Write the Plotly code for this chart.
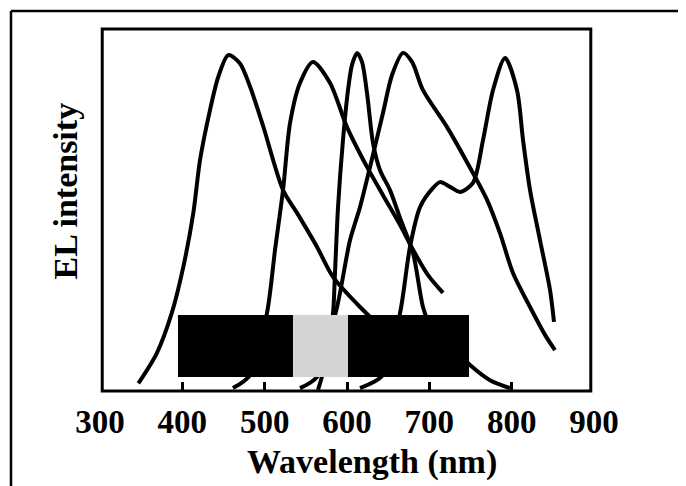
import plotly.graph_objects as go

# ---- data ----
wl_1 = [346.6, 368.9, 387.1, 401.2, 413.3, 421.5, 433.6, 443.7, 455.8, 470.0, 482.2, 498.4,
        522.3, 539.3, 563.6, 583.0, 615.8, 652.2, 700.8]
el_1 = [0.021, 0.104, 0.215, 0.343, 0.491, 0.638, 0.776, 0.868, 0.928, 0.905, 0.841, 0.730,
        0.555, 0.492, 0.398, 0.315, 0.232, 0.155, 0.072]

wl_2 = [461.5, 482.2, 502.8, 512.6, 522.3, 530.8, 542.9, 558.7, 579.4, 600.0, 624.3, 643.7,
        664.4, 680.2, 698.4, 716.6]
el_2 = [0.008, 0.044, 0.215, 0.390, 0.555, 0.740, 0.851, 0.909, 0.851, 0.729, 0.619, 0.541,
        0.459, 0.390, 0.320, 0.271]

wl_3 = [564.8, 573.3, 583.0, 585.4, 589.1, 595.1, 601.2, 606.1, 612.2, 618.2, 624.3, 631.6,
        640.1, 652.2, 664.4, 680.2, 692.3, 700.8, 725.1, 749.4, 773.7, 798.0]
el_3 = [0.003, 0.072, 0.215, 0.326, 0.508, 0.693, 0.831, 0.901, 0.934, 0.909, 0.823, 0.685,
        0.610, 0.555, 0.478, 0.381, 0.232, 0.182, 0.127, 0.072, 0.030, 0.008]

wl_4 = [542.9, 563.6, 587.9, 603.7, 615.8, 628.0, 643.7, 654.7, 668.0, 679.0, 692.3, 721.5,
        753.0, 770.1, 785.8, 801.6, 822.3, 840.5, 852.6]
el_4 = [0.008, 0.039, 0.232, 0.417, 0.508, 0.619, 0.768, 0.873, 0.934, 0.909, 0.831, 0.729,
        0.602, 0.528, 0.436, 0.326, 0.232, 0.155, 0.113]

wl_5 = [615.8, 643.7, 664.4, 676.5, 688.7, 704.5, 713.0, 725.1, 737.3, 753.0, 765.2, 777.3,
        792.0, 806.5, 813.8, 822.3, 834.4, 846.6, 851.4]
el_5 = [0.008, 0.044, 0.215, 0.398, 0.508, 0.561, 0.577, 0.564, 0.550, 0.575, 0.693, 0.831,
        0.920, 0.831, 0.693, 0.555, 0.417, 0.279, 0.191]

tick_vals = [300, 400, 500, 600, 700, 800, 900]
inner_ticks = [400, 500, 600, 700, 800]

# device photo blocks (in data units)
block_x = [394.7, 534.4, 601.2, 748.2]
block_y = [0.039, 0.21]

x_title = "Wavelength (nm)"
y_title = "EL intensity"

FONT = "Liberation Serif"

fig = go.Figure()
for wl, el in [(wl_1, el_1), (wl_2, el_2), (wl_3, el_3), (wl_4, el_4), (wl_5, el_5)]:
    fig.add_trace(go.Scatter(x=wl, y=el, mode="lines",
                             line=dict(color="black", width=4, shape="spline", smoothing=0.8),
                             showlegend=False, hoverinfo="skip"))

shapes = [
    # gap between the two device photos
    dict(type="rect", xref="x", yref="y", x0=block_x[1], x1=block_x[2], y0=block_y[0], y1=block_y[1],
         fillcolor="#d4d4d4", line=dict(width=0), layer="above"),
    dict(type="rect", xref="x", yref="y", x0=block_x[0], x1=block_x[1], y0=block_y[0], y1=block_y[1],
         fillcolor="black", line=dict(width=0), layer="above"),
    dict(type="rect", xref="x", yref="y", x0=block_x[2], x1=block_x[3], y0=block_y[0], y1=block_y[1],
         fillcolor="black", line=dict(width=0), layer="above"),
    # plot frame
    dict(type="rect", xref="paper", yref="paper", x0=0.0045, x1=0.9935, y0=0.0, y1=1.0,
         line=dict(color="black", width=3), layer="above"),
    # outer figure frame (top and left)
    dict(type="line", xref="paper", yref="paper", x0=-0.1802, x1=1.2, y0=1.0497, y1=1.0497,
         line=dict(color="black", width=2.5)),
    dict(type="line", xref="paper", yref="paper", x0=-0.1802, x1=-0.1802, y0=1.0497, y1=-0.30,
         line=dict(color="black", width=2.5)),
]

fig.update_layout(
    width=678, height=478,
    margin=dict(l=92, r=92, t=21, b=95),
    paper_bgcolor="white", plot_bgcolor="white",
    showlegend=False,
    shapes=shapes,
    xaxis=dict(range=[300, 900], tickvals=tick_vals, ticks="", showgrid=False, zeroline=False,
               showline=False, ticklabelstandoff=8,
               tickfont=dict(family=FONT, size=33, color="black", weight="bold"),
               minor=dict(tickvals=inner_ticks, ticks="inside", ticklen=9, tickwidth=2.5,
                          tickcolor="black", showgrid=False)),
    yaxis=dict(range=[0, 1], showticklabels=False, ticks="", showgrid=False, zeroline=False,
               showline=False),
    annotations=[
        dict(text=x_title, xref="paper", yref="paper", x=0.5496, y=-0.1948,
             xanchor="center", yanchor="middle", showarrow=False,
             font=dict(family=FONT, size=34, color="black", weight="bold")),
        dict(text=y_title, xref="paper", yref="paper", x=-0.0698, y=0.5525, textangle=-90,
             xanchor="center", yanchor="middle", showarrow=False,
             font=dict(family=FONT, size=34, color="black", weight="bold")),
    ],
)

fig.write_html("out.html")
